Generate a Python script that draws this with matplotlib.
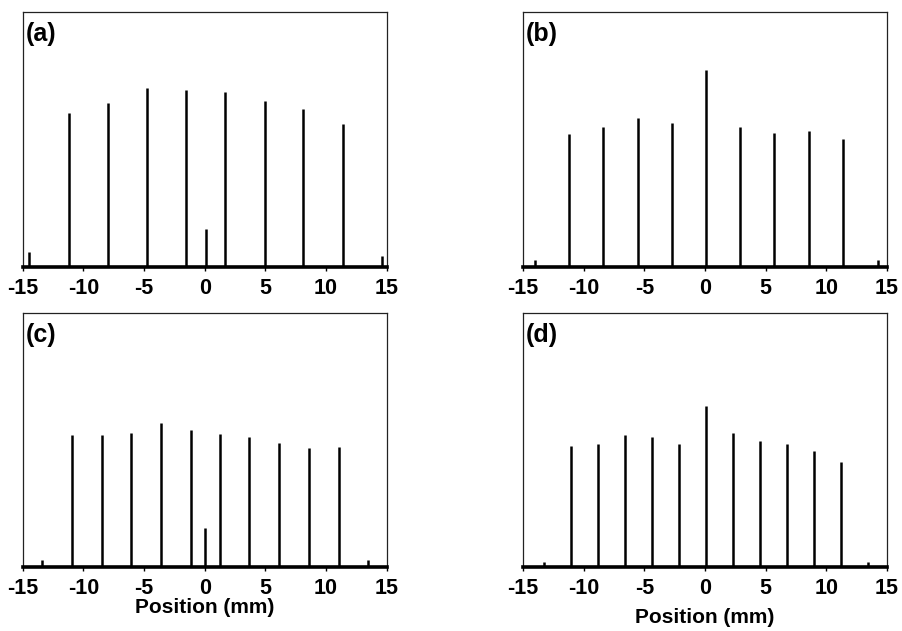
import matplotlib
matplotlib.use("Agg")
import matplotlib.pyplot as plt

plt.rcParams['font.family'] = ['Liberation Sans', 'DejaVu Sans']
plt.rcParams['axes.unicode_minus'] = False

# peak positions (mm) and relative heights
pos_a = [-14.45, -11.21, -8.0, -4.76, -1.55, 0.1, 1.69, 4.93, 8.14, 11.38, 14.62]
hgt_a = [0.059, 0.603, 0.643, 0.701, 0.692, 0.147, 0.687, 0.649, 0.618, 0.561, 0.043]

pos_b = [-14.04, -11.2, -8.37, -5.56, -2.72, 0.08, 2.89, 5.73, 8.56, 11.37, 14.23]
hgt_b = [0.029, 0.520, 0.549, 0.583, 0.564, 0.770, 0.549, 0.524, 0.533, 0.500, 0.029]

pos_c = [-13.38, -10.91, -8.47, -6.05, -3.58, -1.17, 0.04, 1.25, 3.69, 6.14, 8.58, 11.05, 13.49]
hgt_c = [0.029, 0.520, 0.520, 0.530, 0.569, 0.540, 0.156, 0.526, 0.513, 0.490, 0.468, 0.472, 0.029]

pos_d = [-13.29, -11.06, -8.83, -6.60, -4.38, -2.15, 0.11, 2.31, 4.54, 6.77, 9.0, 11.23, 13.46]
hgt_d = [0.020, 0.478, 0.486, 0.522, 0.514, 0.486, 0.635, 0.527, 0.498, 0.486, 0.458, 0.415, 0.020]

panels = ['(a)', '(b)', '(c)', '(d)']
xticks = [-15, -10, -5, 0, 5, 10, 15]

fig = plt.figure(figsize=(9.02, 6.31), dpi=100)

# axes boxes in figure fractions (left, bottom, width, height)
boxes = [
    [0.0252, 0.577, 0.4035, 0.4045],
    [0.5798, 0.577, 0.4035, 0.4045],
    [0.0252, 0.101, 0.4035, 0.4025],
    [0.5798, 0.101, 0.4035, 0.4025],
]
data = [(pos_a, hgt_a), (pos_b, hgt_b), (pos_c, hgt_c), (pos_d, hgt_d)]

for i, (box, (p, h)) in enumerate(zip(boxes, data)):
    ax = fig.add_axes(box)
    ax.vlines(p, 0, h, color='black', linewidth=1.8)
    ax.set_xlim(-15, 15)
    ax.set_ylim(0, 1)
    ax.set_yticks([])
    ax.set_xticks(xticks)
    ax.set_xticklabels([str(t) for t in xticks], fontsize=15.5, fontweight='bold')
    ax.tick_params(axis='x', direction='out', length=3, width=1, pad=5)
    for s in ax.spines.values():
        s.set_linewidth(0.9)
        s.set_color('#222222')
    ax.spines['bottom'].set_linewidth(2.6)
    ax.spines['bottom'].set_color('black')
    ax.text(0.008, 0.96, panels[i], transform=ax.transAxes, ha='left', va='top',
            fontsize=18, fontweight='bold')
    if i >= 2:
        ax.set_xlabel('Position (mm)', fontsize=15, fontweight='bold',
                      labelpad=-1 if i == 2 else 6)

fig.savefig('out.png', dpi=100)
